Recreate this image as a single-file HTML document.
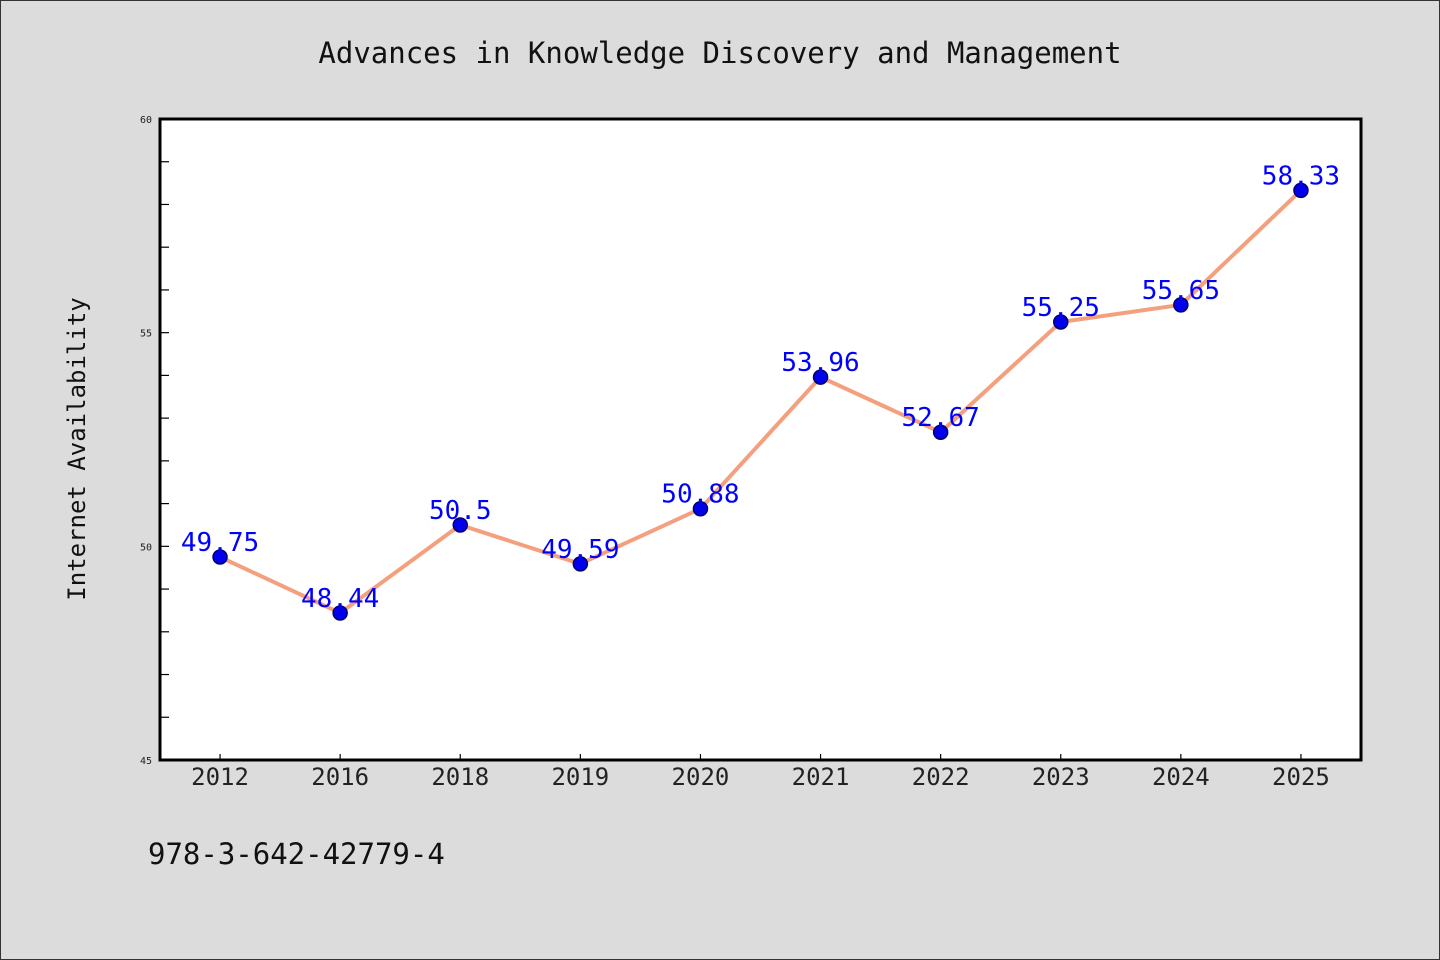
<!DOCTYPE html>
<html><head><meta charset="utf-8"><style>
html,body{margin:0;padding:0;background:#dcdcdc;}
#wrap{position:relative;width:1440px;height:960px;background:#dcdcdc;overflow:hidden;}
svg{position:absolute;left:0;top:0;}
svg text{font-family:"WenQuanYi Zen Hei Mono","DejaVu Sans Mono","Liberation Mono",monospace;}
</style></head><body>
<div id="wrap">
<svg id="chart" width="1440" height="960">
<rect x="0.5" y="0.5" width="1439" height="959" fill="none" stroke="#333" stroke-width="1"/>
<text x="720" y="63" font-size="29" text-anchor="middle" fill="#111">Advances in Knowledge Discovery and Management</text>
<text x="85" y="449" font-size="24" text-anchor="middle" fill="#111" transform="rotate(-90 85 449)">Internet Availability</text>
<text x="148" y="864" font-size="29" fill="#111">978-3-642-42779-4</text>
<rect x="160" y="119" width="1201" height="641" fill="#fff"/>
<g id="ticks"></g>
<g id="marks"></g>
<rect x="160" y="119" width="1201" height="641" fill="none" stroke="#000" stroke-width="3"/>
</svg>
</div>
<script>
const categories=["2012","2016","2018","2019","2020","2021","2022","2023","2024","2025"];
const values=[49.75,48.44,50.5,49.59,50.88,53.96,52.67,55.25,55.65,58.33];
const labels=["49.75","48.44","50.5","49.59","50.88","53.96","52.67","55.25","55.65","58.33"];
const yTickLabels=[45,50,55,60];
const yMin=45,yMax=60;
const L=160,R=1361,T=119,B=760;
const NS="http://www.w3.org/2000/svg";
const bw=(R-L)/categories.length;
function x(i){return L+bw*(i+0.5);}
function y(v){return B-(v-yMin)/(yMax-yMin)*(B-T);}
const tg=document.getElementById('ticks'),mg=document.getElementById('marks');
function mk(tag,attrs,parent){const e=document.createElementNS(NS,tag);for(const k in attrs)e.setAttribute(k,attrs[k]);parent.appendChild(e);return e;}
for(let v=yMin+1;v<yMax;v++){
  const t=mk('line',{x1:L,x2:L+9,y1:y(v),y2:y(v),stroke:'#000','stroke-width':1.2},tg);
  
  
}
yTickLabels.forEach(v=>{
  const t=mk('text',{x:L-8,y:y(v)+4,'font-size':10,'text-anchor':'end',fill:'#222'},tg);
  t.textContent=v;
  
  
});
categories.forEach((c,i)=>{
  const t=mk('line',{x1:x(i),x2:x(i),y1:B,y2:B-6,stroke:'#000','stroke-width':1.2},tg);
  
  
  const l=mk('text',{x:x(i),y:785,'font-size':24,'text-anchor':'middle',fill:'#222'},tg);
  l.textContent=c;
  
  
});
const pl=mk('polyline',{points:values.map((v,i)=>x(i)+','+y(v)).join(' '),fill:'none',stroke:'#f4a07e','stroke-width':4,'stroke-linejoin':'round'},mg);


values.forEach((v,i)=>{
  const c=mk('circle',{cx:x(i),cy:y(v),r:7,fill:'#0000ee',stroke:'#00006a','stroke-width':1.5},mg);
  
  
});
values.forEach((v,i)=>{
  const t=mk('text',{x:x(i),y:y(v)-6,'font-size':26,'text-anchor':'middle',fill:'#0000ff'},mg);
  t.textContent=labels[i];
  
  
});
</script>
</body></html>
